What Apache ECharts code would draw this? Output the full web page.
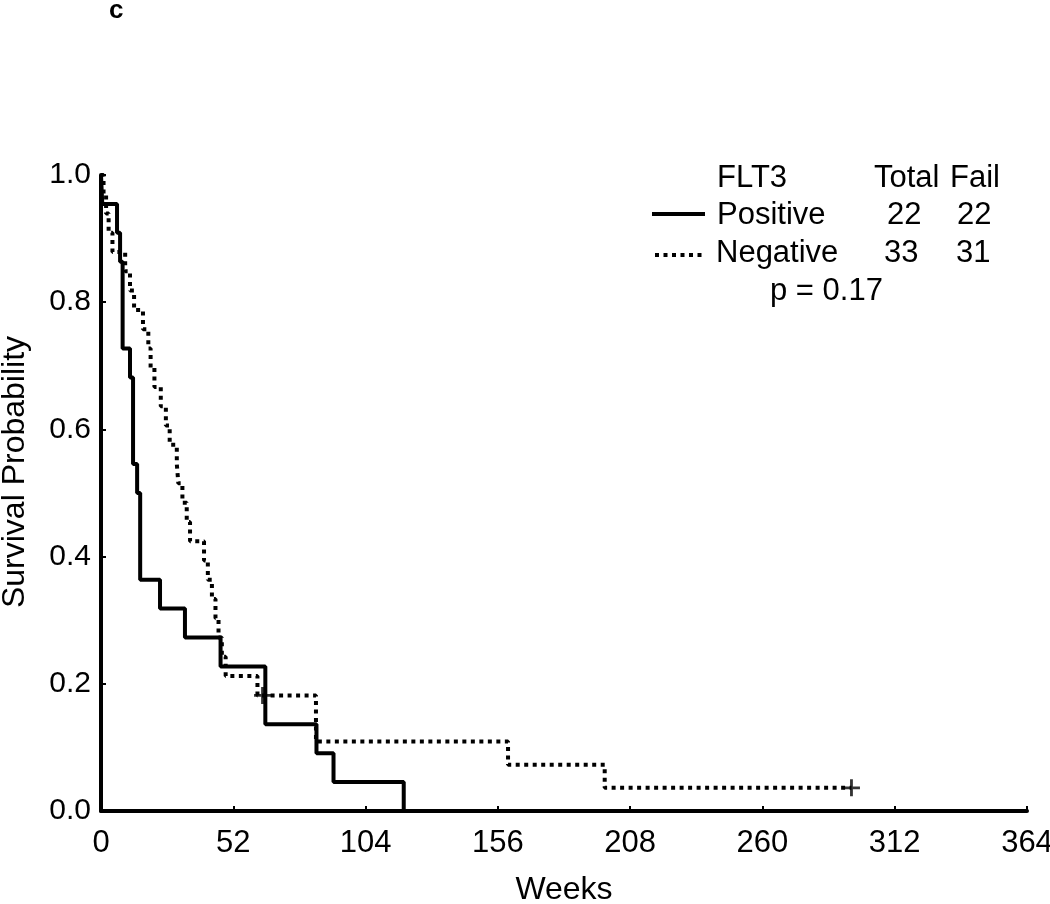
<!DOCTYPE html>
<html>
<head>
<meta charset="utf-8">
<script src="https://cdn.jsdelivr.net/npm/echarts@6/dist/echarts.min.js"></script>
<style>
html,body{margin:0;padding:0;background:#fff;}
#chart{width:1050px;height:904px;}
</style>
</head>
<body>
<div id="chart"></div>
<script>
// ---- data ----
const xTicks = [0, 52, 104, 156, 208, 260, 312, 364];
const positiveTimes = [0, 0.5, 6.3, 7.5, 8.5, 11.4, 12.6, 14.2, 15.4, 23.2, 33, 47, 64.6, 84.7, 91.4, 119];
const positiveSurv  = [1, 0.9545, 0.9091, 0.8636, 0.7273, 0.6818, 0.5455, 0.5, 0.3636, 0.3182, 0.2727, 0.2273, 0.1364, 0.0909, 0.0455, 0];
const negativeTimes = [0, 1, 2, 3, 4.5, 9.5, 11.4, 13, 16.5, 18.6, 19.5, 21, 23.5, 25.5, 27, 29.8, 30.4, 32, 33.7, 35, 40.5, 42, 43.6, 45, 46.2, 47.5, 49, 61.5, 84.5, 160, 198, 295];
const negativeSurv  = [1, 0.9697, 0.9394, 0.9091, 0.8788, 0.8485, 0.8182, 0.7879, 0.7576, 0.7273, 0.6970, 0.6667, 0.6364, 0.6061, 0.5758, 0.5455, 0.5152, 0.4848, 0.4545, 0.4242, 0.3939, 0.3636, 0.3333, 0.3030, 0.2727, 0.2424, 0.2121, 0.1818, 0.1091, 0.0727, 0.0364, 0.0364];
const negCensorTimes = [63.5, 295];
const negCensorSurv  = [0.1818, 0.0364];
const legendHeader = ['FLT3', 'Total', 'Fail'];
const legendRows = [['Positive', '22', '22'], ['Negative', '33', '31']];
const pValueText = 'p = 0.17';
const yAxisTitle = 'Survival Probability';
const xAxisTitle = 'Weeks';
const panelLabel = 'c';

const FONT = '"Liberation Sans", Arial, sans-serif';
const zip = (a, b) => a.map((v, i) => [v, b[i]]);
const plus = 'path://M7.5,0h3v7.5h7.5v3h-7.5v7.5h-3v-7.5h-7.5v-3h7.5z';

const chart = echarts.init(document.getElementById('chart'));
const txt = (x, y, s, size, extra) => ({
  type: 'text', x: x, y: y, rotation: (extra && extra.rotation) || 0,
  style: Object.assign({ text: s, fill: '#000', font: (size || 31) + 'px ' + FONT,
    verticalAlign: 'middle', textVerticalAlign: 'middle', align: 'left' }, (extra && extra.style) || {})
});

chart.setOption({
  backgroundColor: '#fff',
  animation: false,
  grid: { left: 101, right: 23, top: 175, bottom: 93, outerBoundsMode: 'none', containLabel: false },
  xAxis: {
    type: 'value', min: 0, max: 364, interval: 52,
    name: xAxisTitle, nameLocation: 'middle', nameGap: 63,
    nameTextStyle: { color: '#000', fontSize: 32, fontFamily: FONT },
    axisLine: { show: true, lineStyle: { color: '#000', width: 4 } },
    axisTick: { show: true, inside: true, length: 5, lineStyle: { color: '#000', width: 2 } },
    axisLabel: { color: '#000', fontSize: 31, fontFamily: FONT, margin: 17,
      formatter: v => xTicks.includes(v) ? String(v) : '' },
    splitLine: { show: false }
  },
  yAxis: {
    type: 'value', min: 0, max: 1, interval: 0.2,
    axisLine: { show: true, lineStyle: { color: '#000', width: 4 } },
    axisTick: { show: true, inside: true, length: 5, lineStyle: { color: '#000', width: 2 } },
    axisLabel: { color: '#000', fontSize: 30, fontFamily: FONT, margin: 10,
      formatter: v => v.toFixed(1) },
    splitLine: { show: false }
  },
  series: [
    { name: 'Positive', type: 'line', step: 'end', symbol: 'none',
      data: zip(positiveTimes, positiveSurv),
      lineStyle: { color: '#000', width: 4 } },
    { name: 'Negative', type: 'line', step: 'end', symbol: 'none',
      data: zip(negativeTimes, negativeSurv),
      lineStyle: { color: '#000', width: 4, type: [4, 4.5], cap: 'butt' } },
    { name: 'Censored', type: 'scatter', symbol: plus, symbolSize: 17,
      data: zip(negCensorTimes, negCensorSurv),
      itemStyle: { color: '#000' } }
  ],
  graphic: [
    { type: 'text', x: 109, y: 11, style: { text: panelLabel, fill: '#000', font: 'bold 26px ' + FONT, verticalAlign: 'middle', textVerticalAlign: 'middle' } },
    txt(15, 472, yAxisTitle, 32, { rotation: Math.PI / 2, style: { align: 'center' } }),
    txt(717, 178, legendHeader[0]),
    txt(874, 178, legendHeader[1]),
    txt(950, 178, legendHeader[2]),
    txt(717, 215, legendRows[0][0]),
    txt(887, 215, legendRows[0][1]),
    txt(957, 215, legendRows[0][2]),
    txt(716, 253, legendRows[1][0]),
    txt(884, 253, legendRows[1][1]),
    txt(956, 253, legendRows[1][2]),
    txt(770, 291, pValueText),
    { type: 'line', shape: { x1: 652, y1: 214, x2: 705, y2: 214 }, style: { stroke: '#000', lineWidth: 4 } },
    { type: 'line', shape: { x1: 655, y1: 255, x2: 705, y2: 255 }, style: { stroke: '#000', lineWidth: 4, lineDash: [4, 4.5] } }
  ]
});
</script>
</body>
</html>
